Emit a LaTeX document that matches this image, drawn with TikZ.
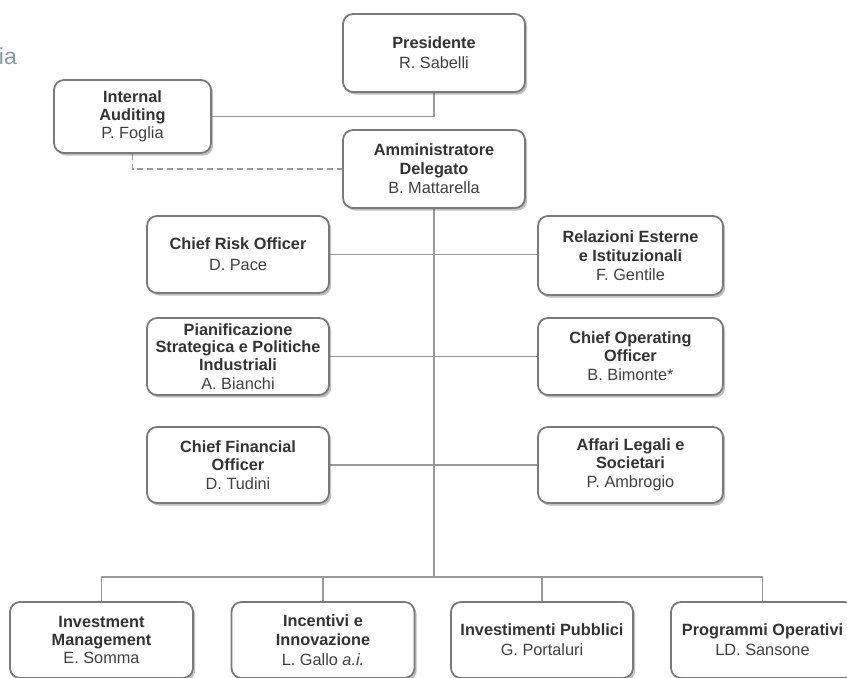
\documentclass[tikz,border=0pt]{standalone}
\usepackage{fontspec}
\setmainfont{Liberation Sans}
\usetikzlibrary{shadows,backgrounds}
\definecolor{boxline}{HTML}{7A7A7A}
\definecolor{lineclr}{HTML}{9A9A9A}
\definecolor{titletxt}{HTML}{333333}
\definecolor{nametxt}{HTML}{404040}
\definecolor{fragtxt}{HTML}{8797A5}
\begin{document}
\begin{tikzpicture}[x=1pt,y=-1pt,
  box/.style={draw=boxline, line width=1.8pt, fill=white, rounded corners=10pt,
    align=center, text=titletxt, inner sep=0pt,
    font=\fontsize{16.3}{19}\selectfont,
    drop shadow={shadow xshift=2.2pt, shadow yshift=-2.6pt, opacity=0.35, fill=black!70}},
  wbox/.style={box, minimum width=182pt, minimum height=77pt},
  rbox/.style={box, minimum width=185pt, minimum height=77pt},
  conn/.style={draw=lineclr, line width=1.7pt},
  dconn/.style={conn, dashed, dash pattern=on 6pt off 4pt}]
\useasboundingbox (0,0) rectangle (847,678);
\clip (0,0) rectangle (847,678);

\node[anchor=base east, text=fragtxt, font=\fontsize{23}{26}\selectfont, inner sep=0pt] (frag) at (17,64) {ia};

\node[wbox, minimum height=78pt] (pres) at (434,53) {\textbf{Presidente}\\[1pt]\textcolor{nametxt}{R. Sabelli}};
\node[box, minimum width=157pt, minimum height=73pt] (ia) at (132.5,116.5) {\textbf{Internal}\\[-1pt]\textbf{Auditing}\\[-1pt]\textcolor{nametxt}{P. Foglia}};
\node[wbox, minimum height=78pt] (ad) at (434,169) {\textbf{Amministratore}\\\textbf{Delegato}\\\textcolor{nametxt}{B. Mattarella}};

\node[wbox] (cro) at (238,254.5) {\textbf{Chief Risk Officer}\\[2pt]\textcolor{nametxt}{D. Pace}};
\node[rbox, minimum height=79pt] (rel) at (630.5,255.5) {\textbf{Relazioni Esterne}\\\textbf{e Istituzionali}\\\textcolor{nametxt}{F. Gentile}};
\node[wbox] (pia) at (238,356.5) {\textbf{Pianificazione}\\[-1.5pt]\textbf{Strategica e Politiche}\\[-1.5pt]\textbf{Industriali}\\\textcolor{nametxt}{A. Bianchi}};
\node[rbox] (coo) at (630.5,356.5) {\textbf{Chief Operating}\\[-1pt]\textbf{Officer}\\\textcolor{nametxt}{B. Bimonte*}};
\node[wbox, minimum height=76pt] (cfo) at (238,465) {\textbf{Chief Financial}\\[-1pt]\textbf{Officer}\\\textcolor{nametxt}{D. Tudini}};
\node[rbox, minimum height=76pt] (aff) at (630.5,465) {\textbf{Affari Legali e}\\[-1pt]\textbf{Societari}\\\textcolor{nametxt}{P. Ambrogio}};

\node[box, minimum width=183pt, minimum height=76pt] (im) at (101.5,640) {\textbf{Investment}\\[-1pt]\textbf{Management}\\[-1pt]\textcolor{nametxt}{E. Somma}};
\node[box, minimum width=183pt, minimum height=76pt] (inc) at (323,640) {\textbf{Incentivi e}\\\textbf{Innovazione}\\[1pt]\textcolor{nametxt}{L. Gallo \textit{a.i.}}};
\node[box, minimum width=182pt, minimum height=76pt] (ip) at (542,640) {\textbf{Investimenti Pubblici}\\[1pt]\textcolor{nametxt}{G. Portaluri}};
\node[box, minimum width=183pt, minimum height=76pt] (po) at (762.5,640) {\textbf{Programmi Operativi}\\[1pt]\textcolor{nametxt}{LD. Sansone}};

\coordinate (bus) at (434,577);

\begin{scope}[on background layer]
  \fill[white] (0,0) rectangle (847,678);
  \draw[conn] (pres.south) |- (ia.east);
  \draw[dconn] (ia.south) |- (ad.west);
  \draw[conn] (ad.south) -- (bus);
  \draw[conn] (cro.east) -- (cro.east -| rel.west);
  \draw[conn] (pia.east) -- (pia.east -| coo.west);
  \draw[conn] (cfo.east) -- (cfo.east -| aff.west);
  \draw[conn] (im.north) -- (im.north |- bus) -- (po.north |- bus) -- (po.north);
  \draw[conn] (inc.north) -- (inc.north |- bus);
  \draw[conn] (ip.north) -- (ip.north |- bus);
\end{scope}
\end{tikzpicture}
\end{document}
